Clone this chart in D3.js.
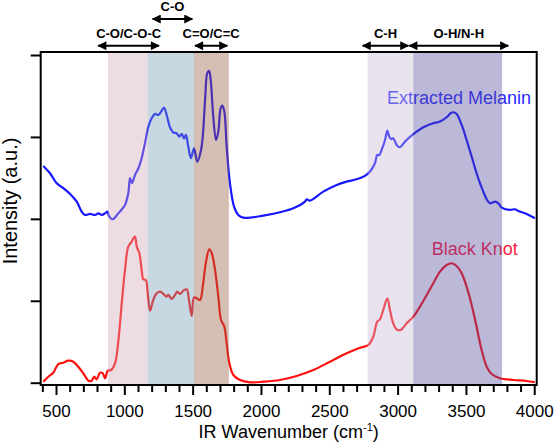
<!DOCTYPE html>
<html>
<head>
<meta charset="utf-8">
<script src="https://cdn.jsdelivr.net/npm/d3@7"></script>
<style>
  body { margin: 0; background: #fff; }
  svg { display: block; font-family: "Liberation Sans", Arial, Helvetica, sans-serif; }
</style>
</head>
<body>
<svg id="chart" width="555" height="444"></svg>
<script>
// ---------------- DATA ----------------
const melaninWavenumber = [407,456,505,554,603,652,688,712,749,786,810,835,859,876,890,915,956,1005,1029,1042,1056,1078,1103,1127,1151,1176,1200,1225,1249,1269,1290,1310,1334,1359,1383,1402,1420,1437,1451,1468,1488,1510,1534,1559,1574,1591,1607,1620,1632,1651,1671,1688,1705,1717,1732,1749,1773,1803,1834,1871,2017,2139,2237,2322,2335,2359,2456,2554,2627,2700,2761,2798,2834,2851,2866,2883,2908,2925,2939,2954,2968,2993,3017,3054,3115,3188,3261,3310,3359,3388,3407,3432,3469,3505,3542,3578,3603,3627,3652,3676,3713,3737,3762,3823,3859,3883,3945,4005];
const melaninIntensity = [2.646,2.557,2.435,2.374,2.304,2.21,2.088,2.048,2.06,2.048,2.068,2.048,2.068,2.088,2.027,1.995,2.068,2.17,2.312,2.496,2.435,2.536,2.618,2.74,2.923,3.126,3.228,3.281,3.268,3.309,3.358,3.268,3.118,3.053,3.045,3.004,3.037,2.979,3.024,2.882,2.74,2.862,2.698,2.82,3.004,3.452,3.778,3.806,3.696,3.248,2.963,3.065,3.35,3.382,3.309,2.882,2.435,2.149,2.048,2.015,2.039,2.081,2.129,2.21,2.239,2.222,2.332,2.414,2.454,2.483,2.524,2.577,2.679,2.78,2.78,2.841,2.963,3.077,3.004,2.972,2.984,2.902,2.874,2.943,3.033,3.118,3.167,3.187,3.24,3.289,3.301,3.281,3.146,2.963,2.759,2.557,2.435,2.332,2.239,2.19,2.21,2.19,2.137,2.109,2.117,2.096,2.06,2.007];

const blackKnotWavenumber = [407,444,480,517,554,590,627,663,700,737,761,780,798,822,842,859,879,903,932,957,981,1005,1029,1054,1066,1078,1091,1110,1127,1139,1157,1171,1188,1208,1232,1261,1286,1310,1322,1347,1371,1388,1408,1432,1457,1473,1493,1510,1530,1554,1574,1598,1622,1640,1664,1688,1708,1732,1749,1769,1798,1847,1920,2017,2139,2261,2383,2505,2627,2725,2786,2822,2851,2871,2895,2925,2944,2968,2993,3023,3066,3115,3164,3213,3261,3310,3359,3396,3432,3469,3505,3542,3578,3615,3652,3688,3749,3847,3945,4005];
const blackKnotIntensity = [0.012,0.073,0.122,0.228,0.244,0.269,0.256,0.195,0.115,0.024,0.024,0.073,0.041,0.122,0.115,0.054,0.147,0.155,0.237,0.521,0.969,1.376,1.661,1.722,1.763,1.783,1.661,1.58,1.376,1.262,1.254,1.092,0.879,0.989,1.083,1.111,1.083,1.05,1.071,1.022,1.071,1.111,1.083,1.123,1.14,1.01,0.814,1.042,1.03,1.01,1.172,1.477,1.629,1.58,1.376,1.05,0.766,0.684,0.481,0.237,0.094,0.033,0.005,0.012,0.033,0.082,0.155,0.256,0.359,0.427,0.46,0.562,0.745,0.774,0.888,1.03,0.888,0.725,0.652,0.643,0.725,0.806,0.928,1.071,1.214,1.355,1.437,1.458,1.425,1.336,1.172,0.949,0.684,0.399,0.195,0.106,0.054,0.033,0.021,0.005];

const seriesNames = ["Extracted Melanin", "Black Knot"];

const xMajorTicks = [500,1000,1500,2000,2500,3000,3500,4000];
const yTicks = [0,1,2,3,4];

const bandStart = [880,1170,1510,2780,3115];
const bandEnd   = [1170,1510,1765,3115,3765];

const annoLabels = ["C-O/C-O-C","C-O","C=O/C=C","C-H","O-H/N-H"];
const annoStart  = [802,1200,1510,2737,3078];
const annoEnd    = [1261,1505,1761,3086,3817];

// ---------------- STYLE / LAYOUT ----------------
const bandColors = ["rgb(210,170,182)","rgb(117,157,182)","rgb(150,92,67)","rgb(200,185,217)","rgb(88,78,155)"];
const bandOpacity = 0.4;
const seriesColors = ["#1616ff","#ff1010"];
const labelColors = ["#2a2aff","#ff1a40"];
const annoRow = [1,0,1,1,1];

const mLeft = 40.7, mRight = 536.7, mTop = 52, mBottom = 385;

const svg = d3.select("#chart");
const x = d3.scaleLinear().domain([388,4018]).range([mLeft,mRight]);
const y = d3.scaleLinear().domain([0,4]).range([382.7,55]);

const lineGen = d3.line().x(d => x(d[0])).y(d => y(d[1])).curve(d3.curveCatmullRom.alpha(0.5));

const melanin = melaninWavenumber.map((w,i) => [w, melaninIntensity[i]]);
const knot = blackKnotWavenumber.map((w,i) => [w, blackKnotIntensity[i]]);

// curves
svg.append("path").datum(melanin).attr("d", lineGen)
  .attr("fill","none").attr("stroke",seriesColors[0]).attr("stroke-width",2.2).attr("stroke-linejoin","round");
svg.append("path").datum(knot).attr("d", lineGen)
  .attr("fill","none").attr("stroke",seriesColors[1]).attr("stroke-width",2.2).attr("stroke-linejoin","round");

// series labels
svg.append("text").attr("x",531).attr("y",103.5).attr("text-anchor","end")
  .attr("font-size",18).attr("fill",labelColors[0]).text(seriesNames[0]);
svg.append("text").attr("x",517.7).attr("y",255).attr("text-anchor","end")
  .attr("font-size",18).attr("fill",labelColors[1]).text(seriesNames[1]);

// bands overlay
svg.selectAll("rect.band").data(bandStart).enter().append("rect")
  .attr("class","band")
  .attr("x", (d,i) => x(d))
  .attr("width", (d,i) => x(bandEnd[i]) - x(d))
  .attr("y", mTop - 1).attr("height", mBottom - mTop + 1)
  .attr("fill", (d,i) => bandColors[i]).attr("fill-opacity", bandOpacity);

// frame
svg.append("rect").attr("x",mLeft).attr("y",mTop).attr("width",mRight-mLeft).attr("height",mBottom-mTop)
  .attr("fill","none").attr("stroke","#000").attr("stroke-width",2);

// x axis
const minorTicks = d3.range(400, 4001, 100).filter(v => v % 500 !== 0);
const xMinor = svg.append("g").attr("transform",`translate(0,${mBottom})`)
  .call(d3.axisBottom(x).tickValues(minorTicks).tickSize(7).tickFormat(""));
xMinor.select(".domain").remove();
xMinor.selectAll("line").attr("stroke-width",2);

const xMajor = svg.append("g").attr("transform",`translate(0,${mBottom})`)
  .call(d3.axisBottom(x).tickValues(xMajorTicks).tickSize(10).tickFormat(d3.format("d")));
xMajor.select(".domain").remove();
xMajor.selectAll("line").attr("stroke-width",2);
xMajor.selectAll("text").attr("y",32).attr("dy",0).attr("font-size",17)
  .attr("font-family","Liberation Sans, Arial, sans-serif").attr("fill","#000");

// y axis
const yAx = svg.append("g").attr("transform",`translate(${mLeft},0)`)
  .call(d3.axisLeft(y).tickValues(yTicks).tickSize(10).tickFormat(""));
yAx.select(".domain").remove();
yAx.selectAll("line").attr("stroke-width",2);

// axis titles
const xt = svg.append("text").attr("x",(mLeft+mRight)/2).attr("y",438).attr("text-anchor","middle")
  .attr("font-size",18).attr("fill","#000");
xt.append("tspan").text("IR Wavenumber (cm");
xt.append("tspan").attr("font-size",11).attr("dy",-7).text("-1");
xt.append("tspan").attr("dy",7).text(")");

svg.append("text").attr("transform","translate(17,201) rotate(-90)").attr("text-anchor","middle")
  .attr("font-size",20).attr("fill","#000").text("Intensity (a.u.)");

// annotation arrows
const defs = svg.append("defs");
defs.append("marker").attr("id","ah").attr("viewBox","0 0 10 10").attr("refX",9).attr("refY",5)
  .attr("markerWidth",5).attr("markerHeight",4.5).attr("orient","auto-start-reverse")
  .attr("markerUnits","strokeWidth")
  .append("path").attr("d","M0,0 L10,5 L0,10 z").attr("fill","#000");

const rowArrowY = [19, 45.7];
const rowTextY = [10.5, 37.5];
annoLabels.forEach((lab,i) => {
  const x1 = x(annoStart[i]), x2 = x(annoEnd[i]);
  svg.append("line").attr("x1",x1+1).attr("x2",x2-1)
    .attr("y1",rowArrowY[annoRow[i]]).attr("y2",rowArrowY[annoRow[i]])
    .attr("stroke","#000").attr("stroke-width",2)
    .attr("marker-start","url(#ah)").attr("marker-end","url(#ah)");
  svg.append("text").attr("x",(x1+x2)/2).attr("y",rowTextY[annoRow[i]]).attr("text-anchor","middle")
    .attr("font-size",13).attr("font-weight","bold").attr("fill","#000").text(lab);
});
</script>
</body>
</html>
